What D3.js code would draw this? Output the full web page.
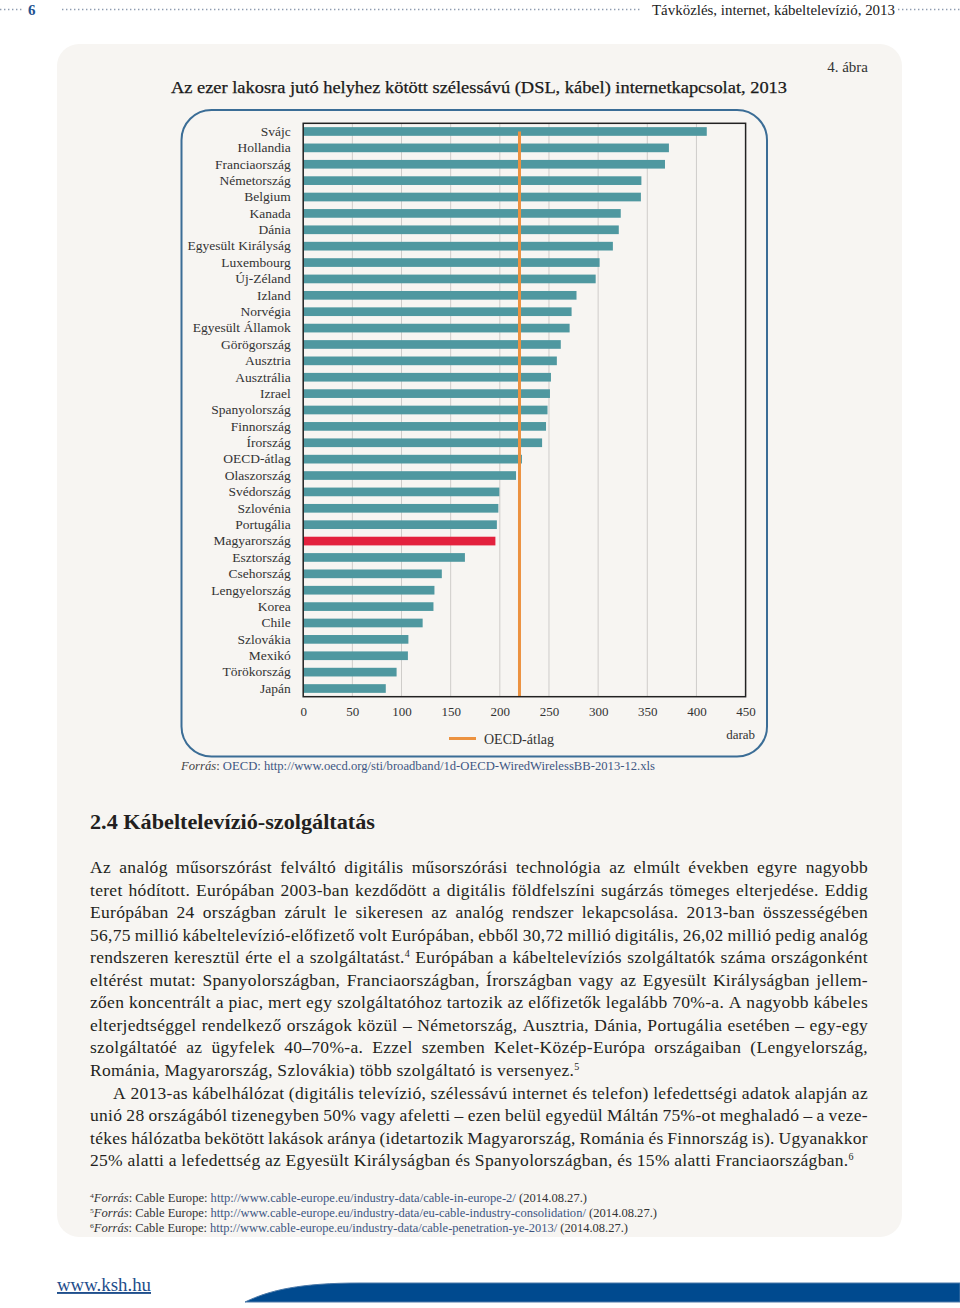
<!DOCTYPE html>
<html>
<head>
<meta charset="utf-8">
<script src="https://cdn.jsdelivr.net/npm/d3@7"></script>
<style>
  body { margin: 0; background: #fff; }
  text { font-family: "Liberation Serif", "DejaVu Serif", serif; }
</style>
</head>
<body>
<svg id="page" width="960" height="1308"></svg>
<script>
// chart data
const countries = ["Svájc", "Hollandia", "Franciaország", "Németország", "Belgium", "Kanada", "Dánia",
  "Egyesült Királyság", "Luxembourg", "Új-Zéland", "Izland", "Norvégia", "Egyesült Államok", "Görögország",
  "Ausztria", "Ausztrália", "Izrael", "Spanyolország", "Finnország", "Írország", "OECD-átlag", "Olaszország",
  "Svédország", "Szlovénia", "Portugália", "Magyarország", "Esztország", "Csehország", "Lengyelország",
  "Korea", "Chile", "Szlovákia", "Mexikó", "Törökország", "Japán"];
const values = [410.5, 372, 368, 344, 343.5, 323, 321, 315, 301.5, 297.5, 278, 273, 271, 262,
  258, 252, 251, 248.5, 247, 243, 222.5, 216.5, 199.5, 198.5, 197, 195.5, 164.5, 141, 133.5,
  132.5, 121.5, 107, 106.5, 95, 84];
const oecdAvg = 220;
const xTicks = [0, 50, 100, 150, 200, 250, 300, 350, 400, 450];
const highlight = "Magyarország";

const bodyLines = [
  ["Az analóg műsorszórást felváltó digitális műsorszórási technológia az elmúlt években egyre nagyobb", true],
  ["teret hódított. Európában 2003-ban kezdődött a digitális földfelszíni sugárzás tömeges elterjedése. Eddig", true],
  ["Európában 24 országban zárult le sikeresen az analóg rendszer lekapcsolása.  2013-ban összességében", true],
  ["56,75 millió kábeltelevízió-előfizető volt Európában, ebből 30,72 millió digitális, 26,02 millió pedig analóg", true],
  ["rendszeren keresztül érte el a szolgáltatást.^4 Európában a kábeltelevíziós szolgáltatók száma országonként", true],
  ["eltérést mutat: Spanyolországban, Franciaországban, Írországban vagy az Egyesült Királyságban jellem-", true],
  ["zően koncentrált a piac, mert egy szolgáltatóhoz tartozik az előfizetők legalább 70%-a. A nagyobb kábeles", true],
  ["elterjedtséggel rendelkező országok közül – Németország, Ausztria, Dánia, Portugália esetében – egy-egy", true],
  ["szolgáltatóé az ügyfelek 40–70%-a. Ezzel szemben Kelet-Közép-Európa országaiban (Lengyelország,", true],
  ["Románia, Magyarország, Szlovákia) több szolgáltató is versenyez.^5", false],
  ["A 2013-as kábelhálózat (digitális televízió, szélessávú internet és telefon) lefedettségi adatok alapján az", true, 23],
  ["unió 28 országából tizenegyben 50% vagy afeletti – ezen belül egyedül Máltán 75%-ot meghaladó – a veze-", true],
  ["tékes hálózatba bekötött lakások aránya (idetartozik Magyarország, Románia és Finnország is). Ugyanakkor", true],
  ["25% alatti a lefedettség az Egyesült Királyságban és Spanyolországban, és 15% alatti Franciaországban.^6", false]
];

const footnotes = [
  ["4", "http://www.cable-europe.eu/industry-data/cable-in-europe-2/", 587],
  ["5", "http://www.cable-europe.eu/industry-data/eu-cable-industry-consolidation/", 657],
  ["6", "http://www.cable-europe.eu/industry-data/cable-penetration-ye-2013/", 628]
];

const svg = d3.select("#page");

// page background panel
svg.append("rect")
  .attr("x", 57).attr("y", 44).attr("width", 845).attr("height", 1193)
  .attr("rx", 22).attr("fill", "#f7f5f2");

// header
let header = svg.append("g");
[[0, 24], [62, 641], [898, 960]].forEach(function(s) {
  header.append("line")
    .attr("x1", s[0]).attr("x2", s[1]).attr("y1", 9.5).attr("y2", 9.5)
    .attr("stroke", "#8d9bb0").attr("stroke-width", 1.6)
    .attr("stroke-dasharray", "1.4,2.6");
});
header.append("text").attr("x", 28).attr("y", 15)
  .attr("font-size", 15).attr("font-weight", "bold").attr("fill", "#1f5290").text("6");
header.append("text").attr("x", 652).attr("y", 15)
  .attr("font-size", 14).attr("fill", "#222")
  .attr("textLength", 243).attr("lengthAdjust", "spacingAndGlyphs")
  .text("Távközlés, internet, kábeltelevízió, 2013");

// figure label and title
svg.append("text").attr("x", 868).attr("y", 72).attr("text-anchor", "end")
  .attr("font-size", 15).attr("fill", "#333").text("4. ábra");
svg.append("text").attr("x", 171).attr("y", 93)
  .attr("font-size", 16).attr("fill", "#1a1a1a")
  .attr("stroke", "#1a1a1a").attr("stroke-width", 0.25)
  .attr("textLength", 616).attr("lengthAdjust", "spacingAndGlyphs")
  .text("Az ezer lakosra jutó helyhez kötött szélessávú (DSL, kábel) internetkapcsolat, 2013");

// chart frame
svg.append("rect")
  .attr("x", 181.5).attr("y", 110).attr("width", 585.5).attr("height", 646.5)
  .attr("rx", 30).attr("fill", "none").attr("stroke", "#3b6d96").attr("stroke-width", 2);

const x = d3.scaleLinear().domain([0, 450]).range([303.2, 745.6]);
const y = d3.scaleBand().domain(countries).range([123.3, 696.7]).paddingInner(0.47).paddingOuter(0.235);

let plot = svg.append("g");

// gridlines
plot.selectAll("line.grid")
  .data(xTicks.slice(1, -1))
  .join("line")
    .attr("class", "grid")
    .attr("x1", d => x(d)).attr("x2", d => x(d))
    .attr("y1", 123.3).attr("y2", 696.7)
    .attr("stroke", "#cfcdca").attr("stroke-width", 1);

// bars
plot.selectAll("rect.bar")
  .data(countries.map((c, i) => ({country: c, value: values[i]})))
  .join("rect")
    .attr("class", "bar")
    .attr("x", x(0))
    .attr("y", d => y(d.country))
    .attr("width", d => x(d.value) - x(0))
    .attr("height", y.bandwidth())
    .attr("fill", d => d.country === highlight ? "#e3213d" : "#4f98a0");

// OECD average line
plot.append("line")
  .attr("x1", x(oecdAvg)).attr("x2", x(oecdAvg))
  .attr("y1", y(countries[0]) + y.bandwidth() / 2).attr("y2", 696.7)
  .attr("stroke", "#ec9240").attr("stroke-width", 3);

// plot border
plot.append("rect")
  .attr("x", x(0)).attr("y", 123.3).attr("width", x(450) - x(0)).attr("height", 696.7 - 123.3)
  .attr("fill", "none").attr("stroke", "#222").attr("stroke-width", 1.5);

// axes
let xAxis = svg.append("g")
  .attr("transform", "translate(0,696.7)")
  .call(d3.axisBottom(x).tickValues(xTicks).tickSize(0).tickPadding(10).tickFormat(d3.format("d")));
xAxis.select(".domain").remove();
xAxis.selectAll("text")
  .attr("font-family", "Liberation Serif").attr("font-size", 13).attr("fill", "#333");

let yAxis = svg.append("g")
  .attr("transform", "translate(303.2,0)")
  .call(d3.axisLeft(y).tickSize(0).tickPadding(12.5));
yAxis.select(".domain").remove();
yAxis.selectAll("text")
  .attr("font-family", "Liberation Serif").attr("font-size", 13.5).attr("fill", "#333");

// legend
svg.append("line").attr("x1", 449).attr("x2", 476).attr("y1", 738.5).attr("y2", 738.5)
  .attr("stroke", "#ec9240").attr("stroke-width", 3);
svg.append("text").attr("x", 484).attr("y", 743.5).attr("font-size", 14).attr("fill", "#333").text("OECD-átlag");
svg.append("text").attr("x", 755).attr("y", 739).attr("text-anchor", "end")
  .attr("font-size", 13).attr("fill", "#333").text("darab");

// source
let src = svg.append("text").attr("x", 181).attr("y", 770).attr("font-size", 12.5)
  .attr("textLength", 474).attr("lengthAdjust", "spacingAndGlyphs");
src.append("tspan").attr("font-style", "italic").attr("fill", "#444").text("Forrás");
src.append("tspan").attr("fill", "#444").text(":");
src.append("tspan").attr("fill", "#3d5582")
  .text(" OECD: http://www.oecd.org/sti/broadband/1d-OECD-WiredWirelessBB-2013-12.xls");

// section heading
svg.append("text").attr("x", 90).attr("y", 829)
  .attr("font-size", 21).attr("font-weight", "bold").attr("fill", "#231f20")
  .attr("textLength", 285).attr("lengthAdjust", "spacingAndGlyphs")
  .text("2.4 Kábeltelevízió-szolgáltatás");

// body text, justified word by word
let write_word = function(g, word) {
  let t = g.append("text").attr("font-size", 17.5).attr("letter-spacing", 0.3).attr("fill", "#231f20");
  let parts = word.split("^");
  t.append("tspan").text(parts[0]);
  if (parts.length > 1) {
    t.append("tspan").attr("font-size", 10).attr("dy", -6).text(parts[1]);
  }
  return t;
};

let body = svg.append("g");
const left = 90, right = 868;
bodyLines.forEach(function(line, li) {
  let indent = line[2] || 0;
  let words = line[0].split(/\s+/).filter(w => w.length);
  let g = body.append("g").attr("transform", `translate(0,${873 + li * 22.55})`);
  let nodes = words.map(w => write_word(g, w));
  let widths = nodes.map(n => n.node().getComputedTextLength());
  let total = d3.sum(widths);
  let gap = 4.5;
  let avail = right - left - indent;
  if (line[1]) gap = (avail - total) / (words.length - 1);
  else if (total + gap * (words.length - 1) > avail) gap = (avail - total) / (words.length - 1);
  let pos = left + indent;
  nodes.forEach(function(n, i) {
    n.attr("x", pos);
    n.selectAll("tspan").filter((d, j) => j === 0).attr("x", pos);
    pos += widths[i] + gap;
  });
});

// footnotes
footnotes.forEach(function(f, i) {
  let t = svg.append("text").attr("x", 90).attr("y", 1202 + i * 15)
    .attr("font-size", 11.5).attr("fill", "#333")
    .attr("textLength", f[2] - 90).attr("lengthAdjust", "spacingAndGlyphs");
  t.append("tspan").attr("font-size", 7).attr("dy", -4).text(f[0]);
  t.append("tspan").attr("dy", 4).attr("font-style", "italic").text("Forrás");
  t.append("tspan").text(": Cable Europe: ");
  t.append("tspan").attr("fill", "#3d5582").text(f[1]);
  t.append("tspan").text(" (2014.08.27.)");
});

// footer
svg.append("text").attr("x", 57).attr("y", 1291)
  .attr("font-size", 19).attr("fill", "#1f4e8c")
  .attr("text-decoration", "underline")
  .attr("textLength", 94).attr("lengthAdjust", "spacingAndGlyphs")
  .text("www.ksh.hu");
svg.append("path")
  .attr("d", "M 245,1302 C 270,1290 300,1283 360,1283 L 960,1283 L 960,1302 Z")
  .attr("fill", "#004a8f").attr("stroke", "#4a78a8").attr("stroke-width", 1);
</script>
</body>
</html>
